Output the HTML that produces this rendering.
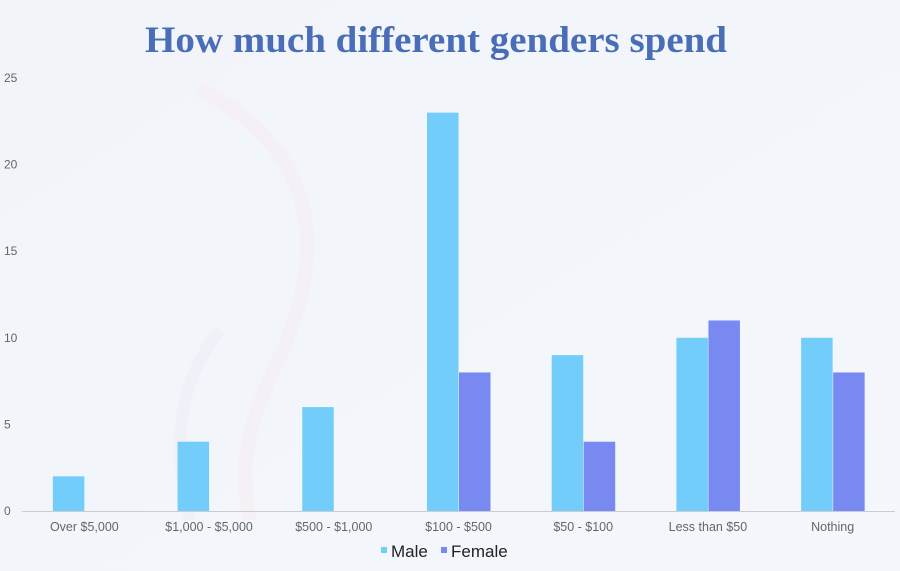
<!DOCTYPE html>
<html><head><meta charset="utf-8"><style>
body{margin:0;width:900px;height:571px;overflow:hidden;background:#f3f6fa;font-family:"Liberation Sans",sans-serif;}
svg{display:block}
</style></head><body>
<svg id="chart" width="900" height="571">
<defs><linearGradient id="bg" x1="0" y1="0" x2="1" y2="1"><stop offset="0" stop-color="#f1f4f9"/><stop offset="1" stop-color="#f4f7fb"/></linearGradient></defs>
<rect width="900" height="571" fill="url(#bg)"/>
<path d="M200 90 C260 120 330 180 300 300 C280 380 230 420 250 520" stroke="#f4f0f6" stroke-width="14" fill="none"/>
<path d="M220 330 C180 380 170 440 190 520" stroke="#eff0f8" stroke-width="12" fill="none"/>
<text x="436" y="52" text-anchor="middle" textLength="582" lengthAdjust="spacingAndGlyphs" font-family="'Liberation Serif',serif" font-weight="bold" font-size="37" fill="#4a6db8">How much different genders spend</text>
<g id="plot"></g>
<g>
<rect x="381" y="547" width="6" height="6" fill="#73cdfa"/>
<text x="391" y="557" font-size="17" fill="#222">Male</text>
<rect x="441" y="547" width="6" height="6" fill="#7889f2"/>
<text x="451" y="557" font-size="17" fill="#222">Female</text>
</g>
</svg>
<script>
const categories=["Over $5,000","$1,000 - $5,000","$500 - $1,000","$100 - $500","$50 - $100","Less than $50","Nothing"];
const maleValues=[2,4,6,23,9,10,10];
const femaleValues=[0,0,0,8,4,11,8];
const yTicks=[0,5,10,15,20,25];
const NS="http://www.w3.org/2000/svg";
const g=document.getElementById('plot');
const left=22,right=895,y0=511,y1=78,yMax=25;
const bw=(right-left)/categories.length, barW=31.5;
function y(v){return y0-(v/yMax)*(y0-y1);}
function xc(i){return left+bw*(i+0.5);}
function mk(tag,attrs){const e=document.createElementNS(NS,tag);for(const k in attrs)e.setAttribute(k,attrs[k]);g.appendChild(e);return e;}
yTicks.forEach(t=>{
 const e=mk('text',{x:4,y:y(t)+4,'font-size':12,fill:'#666'});e.textContent=t;
 
 
});
categories.forEach((c,i)=>{
 const m=mk('rect',{x:xc(i)-barW,y:y(maleValues[i]),width:barW,height:y0-y(maleValues[i]),fill:'#73cdfa'});
 
 
 if(femaleValues[i]>0){
 const f=mk('rect',{x:xc(i)+0.5,y:y(femaleValues[i]),width:barW,height:y0-y(femaleValues[i]),fill:'#7889f2'});
 
 
 }
 const l=mk('text',{x:xc(i),y:531,'text-anchor':'middle','font-size':12.5,fill:'#666'});l.textContent=c;
 
 
});
const ax=mk('line',{x1:left,x2:right,y1:y0+0.5,y2:y0+0.5,stroke:'#ccc','stroke-width':1});


</script>
</body></html>
